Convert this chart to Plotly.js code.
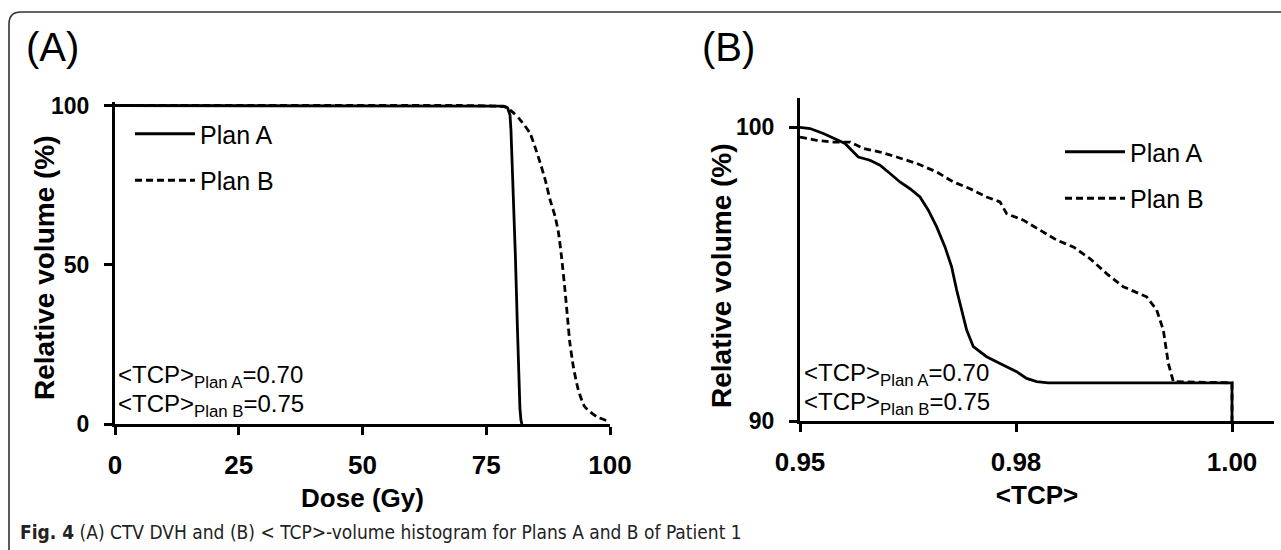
<!DOCTYPE html>
<html>
<head>
<meta charset="utf-8">
<script src="https://cdn.plot.ly/plotly-3.0.1.min.js"></script>
<style>html,body{margin:0;padding:0;background:#fff;}#chart{width:1281px;height:550px;}</style>
</head>
<body>
<div id="chart"></div>
<script>
// Panel A: CTV DVH
const doseA = [0, 76, 78.5, 79.3, 79.8, 80.0, 80.4, 80.9, 81.3, 81.6, 81.8, 82.0, 82.2];
const volA  = [100, 100, 99.8, 99.3, 97, 92, 75, 52, 30, 11, 5, 1.3, 0];
const doseB = [0, 70, 77, 79, 80.5, 81.8, 83.8, 84.8, 85.9, 86.9, 87.9, 88.9, 89.6, 90.2, 90.9, 91.4, 91.9, 92.6, 93.6, 94.9, 97.3, 100];
const volB  = [100, 100, 99.8, 99.5, 97.7, 95.6, 91.4, 87.2, 82.0, 76.7, 70.4, 65.2, 60.0, 52.6, 42.1, 33.7, 25.4, 18.0, 10.7, 5.4, 2.3, 0.7];

// Panel B: <TCP>-volume histogram
const tcpA  = [0.95, 0.95116, 0.9527, 0.95386, 0.95521, 0.95598, 0.95675, 0.9581, 0.95926, 0.96042, 0.96157, 0.96273, 0.96389, 0.96485, 0.96582, 0.96678, 0.96755, 0.96813, 0.96871, 0.96929, 0.97006, 0.9716, 0.97315, 0.97508, 0.97623, 0.97739, 0.97874, 1.0, 1.0];
const tvolA = [100.0, 99.96, 99.79, 99.62, 99.45, 99.22, 98.99, 98.88, 98.71, 98.43, 98.14, 97.91, 97.63, 97.18, 96.61, 95.93, 95.25, 94.46, 93.78, 93.10, 92.53, 92.19, 91.96, 91.68, 91.45, 91.34, 91.30, 91.30, 90];
const tcpB  = [0.95, 0.95193, 0.95386, 0.95579, 0.95733, 0.95926, 0.96119, 0.96351, 0.96582, 0.96775, 0.96968, 0.9716, 0.97315, 0.97392, 0.97585, 0.97778, 0.97971, 0.98163, 0.98356, 0.98549, 0.98742, 0.99012, 0.99128, 0.99205, 0.99263, 0.99321, 1.0, 1.0];
const tvolB = [99.67, 99.56, 99.50, 99.50, 99.28, 99.16, 98.99, 98.77, 98.48, 98.14, 97.91, 97.63, 97.46, 97.06, 96.84, 96.50, 96.16, 95.93, 95.53, 95.02, 94.57, 94.23, 93.78, 93.10, 91.96, 91.34, 91.30, 90];

const doseTicks = [0, 25, 50, 75, 100];
const volTicksA = [0, 50, 100];
const tcpTicks = [0.95, 0.975, 1.0];
const tcpTickText = ['0.95', '0.98', '1.00'];
const volTicksB = [90, 100];
const seriesNames = ['Plan A', 'Plan B'];
const tcpNotes = ['&lt;TCP&gt;<sub>Plan A</sub>=0.70', '&lt;TCP&gt;<sub>Plan B</sub>=0.75'];
const yTitle = 'Relative volume (%)';

const W = 1281, H = 550;
const px = v => v / W;
const py = v => 1 - v / H;
const FONT = 'Liberation Sans, Arial, sans-serif';

const solid = {color: '#000', width: 2.8, dash: 'solid'};
const dashed = {color: '#000', width: 2.8, dash: '7px,4px'};

const traces = [
  {x: doseA, y: volA, xaxis: 'x', yaxis: 'y', mode: 'lines', line: solid, name: seriesNames[0], legend: 'legend', legendgroup: 'a1'},
  {x: doseB, y: volB, xaxis: 'x', yaxis: 'y', mode: 'lines', line: Object.assign({}, dashed, {shape: 'spline', smoothing: 0.6}), name: seriesNames[1], legend: 'legend', legendgroup: 'a2'},
  {x: tcpA, y: tvolA, xaxis: 'x2', yaxis: 'y2', mode: 'lines', line: solid, name: seriesNames[0], legend: 'legend2', legendgroup: 'b1'},
  {x: tcpB, y: tvolB, xaxis: 'x2', yaxis: 'y2', mode: 'lines', line: dashed, name: seriesNames[1], legend: 'legend2', legendgroup: 'b2'}
];

const axisCommon = {
  showline: true, linecolor: '#000', linewidth: 3,
  ticks: 'outside', ticklen: 8, tickwidth: 3, tickcolor: '#000',
  showgrid: false, zeroline: false, fixedrange: true, automargin: false
};
const xtickfont = {family: FONT, size: 26, color: '#000', weight: 'bold'};
const ytickfont = {family: FONT, size: 23, color: '#000', weight: 'bold'};
const titlefont = {family: FONT, size: 26, color: '#000', weight: 'bold'};
const ytitlefont = {family: FONT, size: 28, color: '#000', weight: 'bold'};
const notefont = {family: FONT, size: 24, color: '#000'};

const legendCommon = {
  font: {family: FONT, size: 25, color: '#000'},
  bgcolor: 'rgba(0,0,0,0)', borderwidth: 0,
  xanchor: 'left', yanchor: 'top', tracegroupgap: 11, itemwidth: 60, traceorder: 'grouped'
};

function note(x, y, text, font, extra) {
  return Object.assign({xref: 'paper', yref: 'paper', x: px(x), y: py(y), xanchor: 'left', yanchor: 'middle',
    text: text, showarrow: false, font: font}, extra || {});
}

const layout = {
  width: W, height: H,
  margin: {l: 0, r: 0, t: 0, b: 0},
  paper_bgcolor: '#fff', plot_bgcolor: 'rgba(0,0,0,0)',
  showlegend: true,
  xaxis: Object.assign({}, axisCommon, {
    domain: [px(115), px(610)], range: [0, 100], tickvals: doseTicks, anchor: 'y',
    tickfont: xtickfont, ticklabelstandoff: 8,
    title: {text: 'Dose (Gy)', font: titlefont, standoff: 10}
  }),
  yaxis: Object.assign({}, axisCommon, {
    domain: [1 - 424 / H, 1 - 101.7 / H], range: [0, 101.2], tickvals: volTicksA, anchor: 'x',
    tickfont: ytickfont, ticklabelstandoff: 10
  }),
  xaxis2: Object.assign({}, axisCommon, {
    domain: [px(800), px(1274)], range: [0.95, 1.00486], tickvals: tcpTicks, ticktext: tcpTickText, anchor: 'y2',
    tickfont: xtickfont, ticklabelstandoff: 8,
    title: {text: '&lt;TCP&gt;', font: titlefont, standoff: 10}
  }),
  yaxis2: Object.assign({}, axisCommon, {
    domain: [1 - 421 / H, 1 - 98 / H], range: [90, 101], tickvals: volTicksB, anchor: 'x2',
    tickfont: ytickfont, ticklabelstandoff: 10
  }),
  legend: Object.assign({}, legendCommon, {x: px(130), y: py(111)}),
  legend2: Object.assign({}, legendCommon, {x: px(1060), y: py(129)}),
  annotations: [
    note(24, 47, '(A)', {family: FONT, size: 40, color: '#000'}),
    note(700, 47, '(B)', {family: FONT, size: 40, color: '#000'}),
    note(116, 376, tcpNotes[0], notefont),
    note(116, 405, tcpNotes[1], notefont),
    note(802, 374, tcpNotes[0], notefont),
    note(802, 403, tcpNotes[1], notefont),
    note(44, 268, yTitle, ytitlefont, {xanchor: 'center', textangle: -90}),
    note(721, 276, yTitle, ytitlefont, {xanchor: 'center', textangle: -90}),
    note(18, 532, '<b>Fig. 4</b> (A) CTV DVH and (B) &lt; TCP&gt;-volume histogram for Plans A and B of Patient 1',
      {family: 'Liberation Sans Narrow, DejaVu Sans Condensed, Open Sans, sans-serif', size: 19, color: '#222'})
  ],
  shapes: [
    {type: 'path', xref: 'paper', yref: 'paper',
     path: 'M ' + px(9) + ' ' + py(600) + ' L ' + px(9) + ' ' + py(24) + ' Q ' + px(9) + ' ' + py(12) + ' ' + px(21) + ' ' + py(12) + ' L ' + px(1300) + ' ' + py(12),
     line: {color: '#333', width: 1.6}}
  ]
};

Plotly.newPlot('chart', traces, layout, {staticPlot: true, displayModeBar: false});
</script>
</body>
</html>
